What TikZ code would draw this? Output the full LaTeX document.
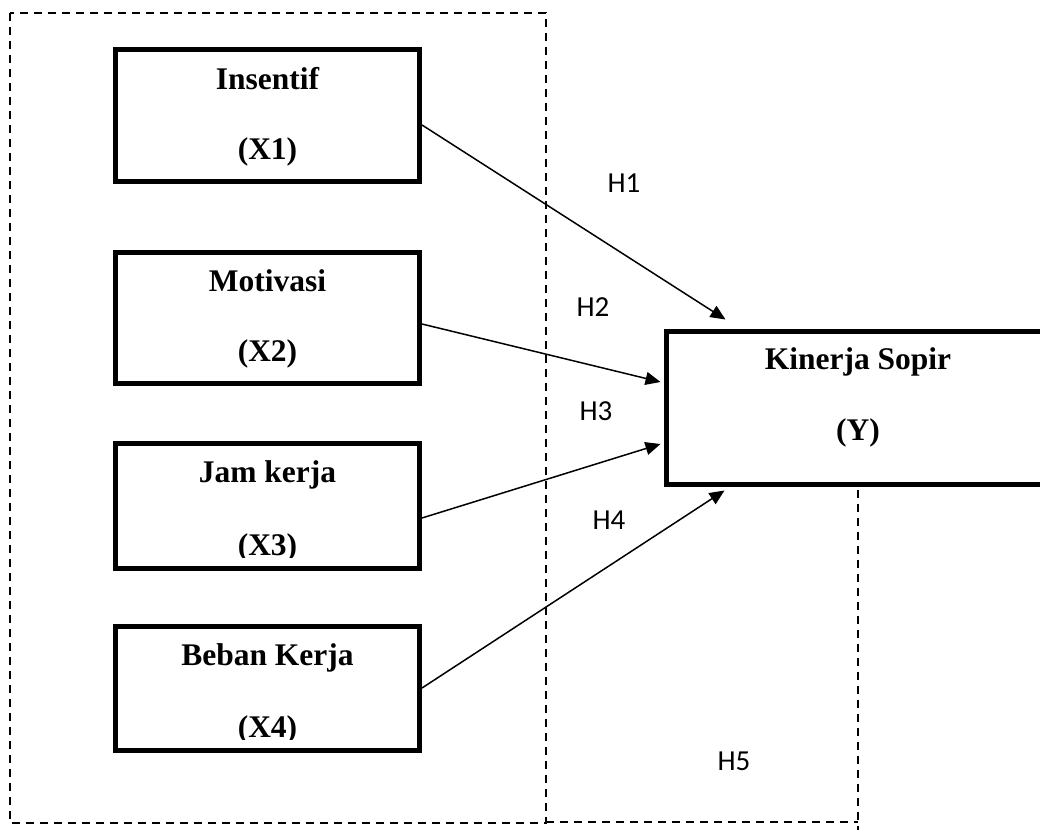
\documentclass[tikz,border=0pt]{standalone}
\usepackage{fontspec}
\setmainfont{Liberation Serif}
\newfontfamily\hfont{Carlito}
\usetikzlibrary{arrows.meta}
\begin{document}
\begin{tikzpicture}[x=1pt,y=-1pt,
  varbox/.style={draw, line width=5pt, inner sep=0pt, minimum width=304pt},
  boxtext/.style={anchor=base, inner sep=0pt, font=\fontsize{31.5}{31.5}\selectfont\bfseries},
  hyp/.style={inner sep=0pt, font=\hfont\fontsize{29}{29}\selectfont},
  link/.style={line width=1.5pt, -{Triangle[length=15pt,width=13pt]}},
  frame/.style={line width=1.4pt, dash pattern=on 8pt off 6pt}]
\clip (0,0) rectangle (1040,834);
% dashed frames
\coordinate (ftl) at (10,13);
\coordinate (fbr) at (546,823);
\coordinate (fcorner) at (858,822);
\coordinate (fend) at (858,830);
\draw[frame] (ftl) rectangle (fbr);
% boxes
\node[varbox, minimum height=132pt] (x1) at (267.5,116) {};
\node[varbox, minimum height=131pt] (x2) at (267.5,317.5) {};
\node[varbox, minimum height=125pt] (x3) at (267.5,505.5) {};
\node[varbox, minimum height=124pt] (x4) at (267.5,688) {};
\node[varbox, minimum width=384pt, minimum height=153pt] (y) at (858,407.5) {};
\draw[frame] (fbr |- fcorner) -- (fcorner);
\draw[frame] ([yshift=-3pt]y.south) -- (fend);
% texts
\node[boxtext] (x1a) at ([yshift=-42pt]x1.north) {Insentif};
\node[boxtext] (x1b) at ([yshift=-112pt]x1.north) {(X1)};
\node[boxtext] (x2a) at ([yshift=-42pt]x2.north) {Motivasi};
\node[boxtext] (x2b) at ([yshift=-112pt]x2.north) {(X2)};
\node[boxtext] (x3a) at ([yshift=-42pt]x3.north) {Jam kerja};
\begin{scope}
\clip (x3.north west) rectangle ([yshift=13pt]x3.south east);
\node[boxtext] (x3b) at ([yshift=-115pt]x3.north) {(X3)};
\end{scope}
\node[boxtext] (x4a) at ([yshift=-42pt]x4.north) {Beban Kerja};
\begin{scope}
\clip (x4.north west) rectangle ([yshift=13pt]x4.south east);
\node[boxtext] (x4b) at ([yshift=-114pt]x4.north) {(X4)};
\end{scope}
\node[boxtext] (ya) at ([yshift=-41pt]y.north) {Kinerja Sopir};
\node[boxtext] (yb) at ([yshift=-112pt]y.north) {(Y)};
% arrows
\draw[link] ([yshift=-9pt]x1.east) -- ([xshift=62pt,yshift=9pt]y.north west);
\draw[link] ([yshift=-6.5pt]x2.east) -- ([xshift=-3pt,yshift=25.5pt]y.west);
\draw[link] ([yshift=-12.5pt]x3.east) -- ([xshift=-3pt,yshift=-36.5pt]y.west);
\draw[link] (x4.east) -- ([xshift=61pt,yshift=-4pt]y.south west);
% hypothesis labels
\node[hyp] (h1) at (624,183) {H1};
\node[hyp] (h2) at (593,307) {H2};
\node[hyp] (h3) at (596,411) {H3};
\node[hyp] (h4) at (609,520) {H4};
\node[hyp] (h5) at (734,761) {H5};
\end{tikzpicture}
\end{document}
